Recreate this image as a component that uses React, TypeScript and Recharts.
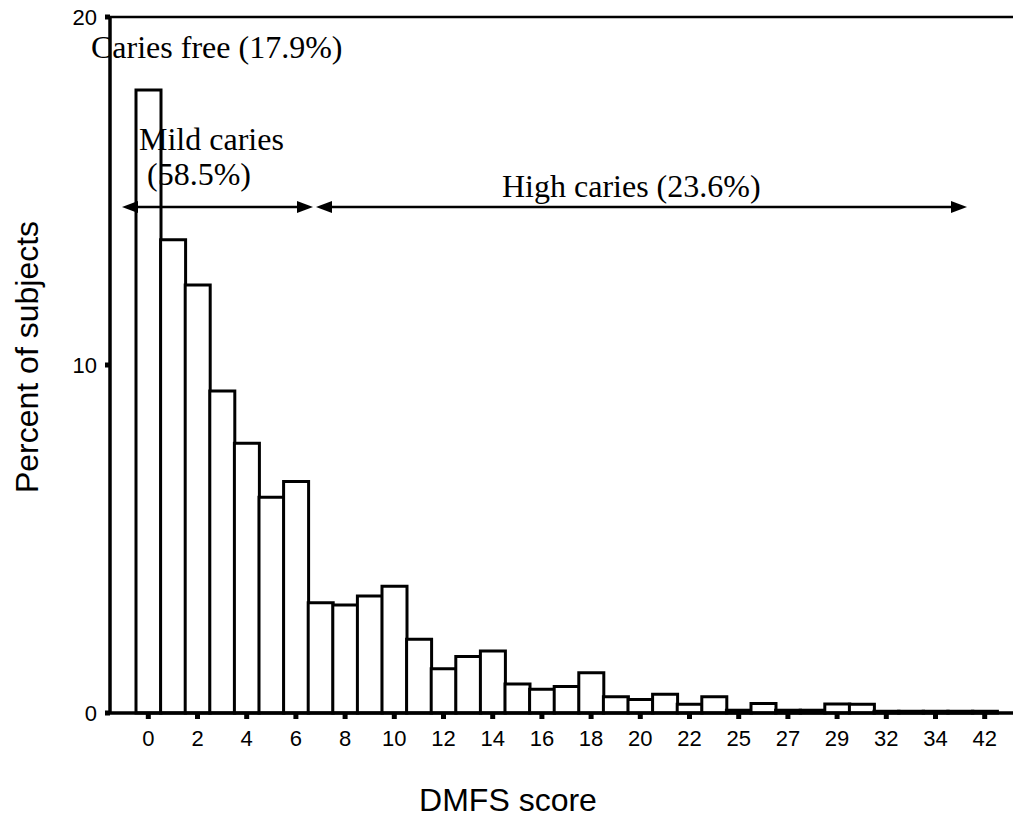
import React from "react";
import {
  BarChart,
  Bar,
  XAxis,
  YAxis,
  ReferenceLine,
} from "recharts";

// DMFS score categories (only every other one gets a tick label)
const scores = [
  "0", "1", "2", "3", "4", "5", "6", "7", "8", "9", "10", "11", "12", "13",
  "14", "15", "16", "17", "18", "19", "20", "21", "22", "23", "25", "26",
  "27", "28", "29", "30", "32", "33", "34", "38", "42",
];

// percent of subjects per score
const percent = [
  17.9, 13.6, 12.3, 9.25, 7.75, 6.2, 6.65, 3.17, 3.1, 3.36, 3.64, 2.12, 1.27,
  1.62, 1.78, 0.83, 0.68, 0.76, 1.16, 0.47, 0.39, 0.54, 0.25, 0.47, 0.08,
  0.27, 0.08, 0.08, 0.26, 0.25, 0.05, 0.05, 0.05, 0.05, 0.05,
];

const yTicks = [0, 10, 20];

const data = scores.map((s, i) => ({ score: s, pct: percent[i] }));

const sans = "'Liberation Sans', Arial, sans-serif";
const serif = "'Liberation Serif', 'Times New Roman', serif";

const YTitle = (props: any) => {
  const vb = props.viewBox;
  const cx = 27;
  const cy = vb.y + vb.height / 2 - 8;
  return (
    <text
      x={cx}
      y={cy}
      transform={`rotate(-90 ${cx} ${cy})`}
      textAnchor="middle"
      dominantBaseline="central"
      fontSize={32}
      fontFamily={sans}
      fill="#000"
    >
      Percent of subjects
    </text>
  );
};

const XTitle = () => (
  <text x={508} y={811} textAnchor="middle" fontSize={32} fontFamily={sans} fill="#000">
    DMFS score
  </text>
);

// arrow helper for the group annotations
const Arrow = ({ x1, x2, y }: { x1: number; x2: number; y: number }) => (
  <g>
    <line x1={x1 + 10} x2={x2 - 10} y1={y} y2={y} stroke="#000" strokeWidth={2.5} />
    <polygon points={`${x1},${y} ${x1 + 16},${y - 6} ${x1 + 16},${y + 6}`} fill="#000" />
    <polygon points={`${x2},${y} ${x2 - 16},${y - 6} ${x2 - 16},${y + 6}`} fill="#000" />
  </g>
);

const App = () => {
  return (
    <div style={{ position: "absolute", left: 0, top: 0, width: 1013, height: 835, background: "#fff" }}>
      <BarChart
        width={1013}
        height={835}
        data={data}
        margin={{ top: 17, right: 0, left: 0, bottom: 0 }}
        barCategoryGap={0}
      >
        <XAxis
          dataKey="score"
          interval={1}
          height={122}
          padding={{ left: 26, right: 16 }}
          axisLine={{ stroke: "#000", strokeWidth: 3.5 }}
          tickLine={{ stroke: "#000", strokeWidth: 5 }}
          tickSize={6}
          tickMargin={11}
          tick={{ fill: "#000", fontSize: 22, fontFamily: sans }}
          label={{ content: XTitle }}
        />
        <YAxis
          domain={[0, 20]}
          ticks={yTicks}
          width={110}
          axisLine={{ stroke: "#000", strokeWidth: 3.5 }}
          tickLine={{ stroke: "#000", strokeWidth: 5 }}
          tickSize={5}
          tickMargin={8}
          tick={{ fill: "#000", fontSize: 22, fontFamily: sans }}
          label={{ content: YTitle }}
        />
        <ReferenceLine y={20} stroke="#000" strokeWidth={2.5} />
        <Bar dataKey="pct" fill="#fff" stroke="#000" strokeWidth={3} isAnimationActive={false} />
      </BarChart>
      <svg
        width={1013}
        height={835}
        style={{ position: "absolute", left: 0, top: 0, pointerEvents: "none" }}
      >
        <g fontFamily={serif} fontSize={32} fill="#000">
          <text x={91} y={58}>Caries free (17.9%)</text>
          <text x={139} y={150}>Mild caries</text>
          <text x={147} y={185}>(58.5%)</text>
          <text x={502} y={197}>High caries (23.6%)</text>
        </g>
        <Arrow x1={122} x2={313} y={207} />
        <Arrow x1={316} x2={967} y={207} />
      </svg>
    </div>
  );
};

export default App;
